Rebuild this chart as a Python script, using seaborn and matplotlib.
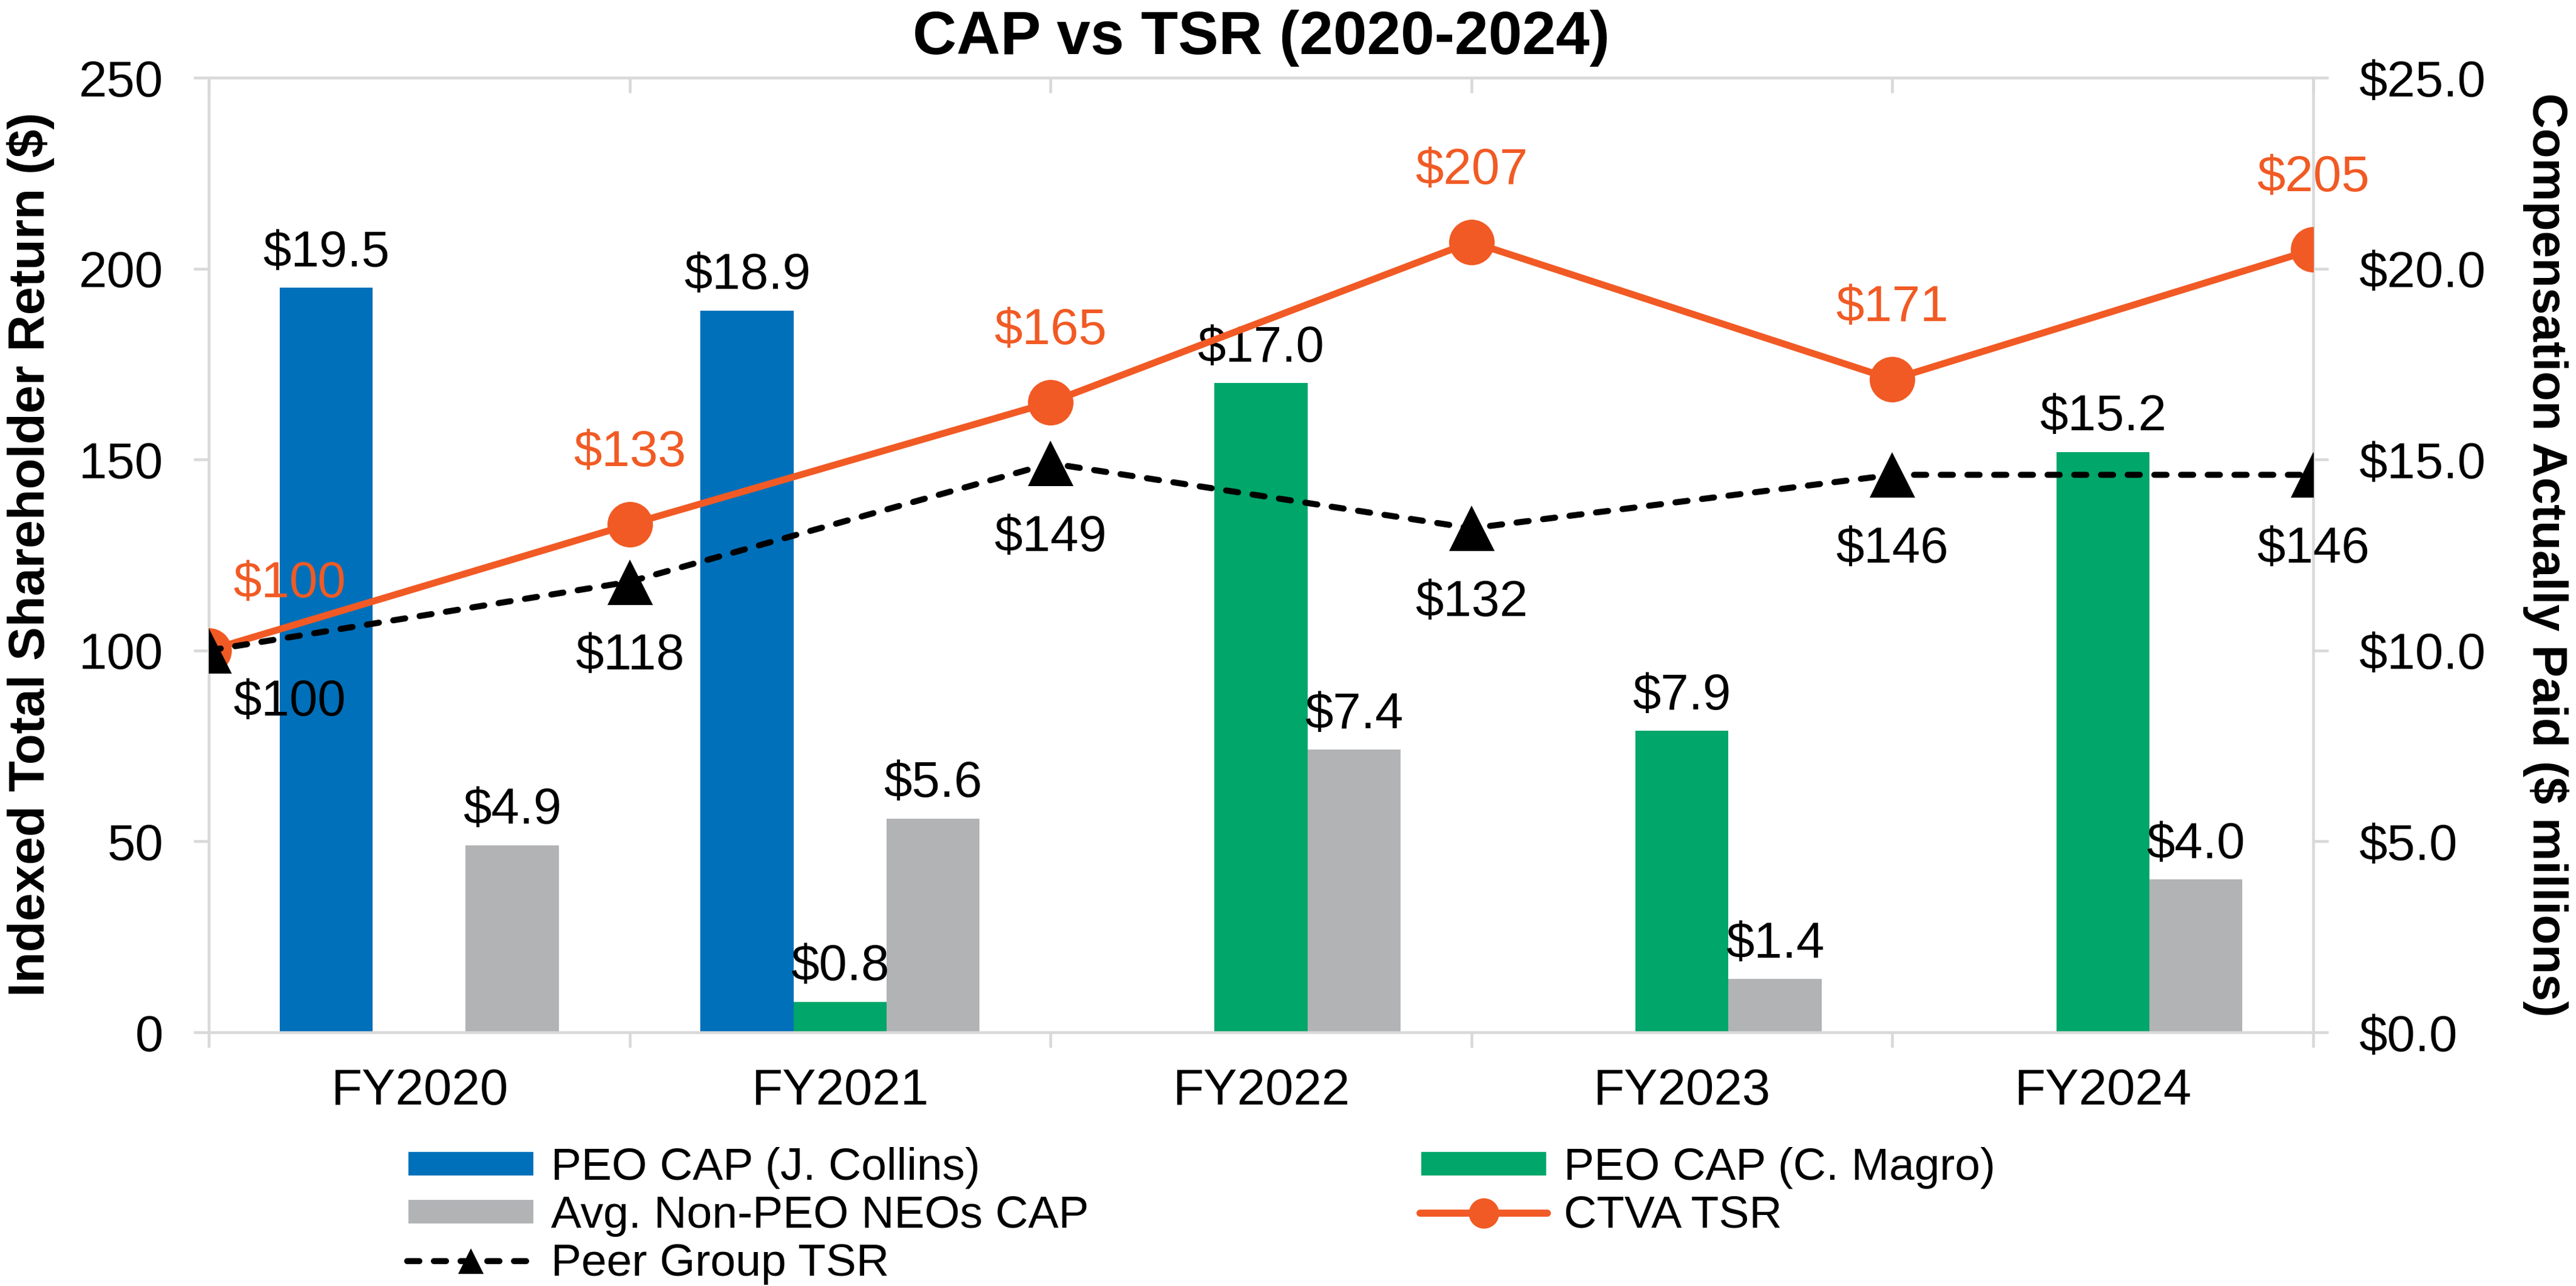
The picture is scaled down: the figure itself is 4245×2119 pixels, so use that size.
import matplotlib
matplotlib.use('Agg')
import matplotlib.pyplot as plt
import seaborn as sns
import pandas as pd
from matplotlib.patches import Patch
from matplotlib.lines import Line2D
from matplotlib.ticker import FuncFormatter

# Data
years = ['FY2020', 'FY2021', 'FY2022', 'FY2023', 'FY2024']
collins_cap = [19.5, 18.9, 0, 0, 0]
magro_cap = [0, 0.8, 17.0, 7.9, 15.2]
neo_cap = [4.9, 5.6, 7.4, 1.4, 4.0]

# TSR points sit on the category boundaries (start of FY2020 .. end of FY2024)
tsr_x = [-0.5, 0.5, 1.5, 2.5, 3.5, 4.5]
ctva_tsr = [100, 133, 165, 207, 171, 205]
peer_tsr = [100, 118, 149, 132, 146, 146]

series_names = ['PEO CAP (J. Collins)', 'PEO CAP (C. Magro)', 'Avg. Non-PEO NEOs CAP']
bar_colors = ['#0070BA', '#00A66A', '#B2B3B5']
orange = '#F15A24'
axis_gray = '#D9D9D9'
peer_dash = (0, (2.0, 2.4))

df = pd.DataFrame({
    'Year': years * 3,
    'Series': [n for n in series_names for _ in years],
    'CAP': collins_cap + magro_cap + neo_cap,
})

sns.set_style('white')
plt.rcParams['font.family'] = ['Liberation Sans', 'DejaVu Sans']
plt.rcParams['text.color'] = 'black'
plt.rcParams['axes.labelcolor'] = 'black'
plt.rcParams['xtick.color'] = 'black'
plt.rcParams['ytick.color'] = 'black'

fig = plt.figure(figsize=(4245 / 300, 2119 / 300), dpi=300)
ax = fig.add_axes([0.08104, 0.19726, 0.81696, 0.74233])

# Bars (CAP, right-hand scale)
sns.barplot(data=df, x='Year', y='CAP', hue='Series', hue_order=series_names,
            palette=bar_colors, saturation=1, width=0.663, linewidth=0,
            legend=False, ax=ax)

for cont, vals in zip(ax.containers, [collins_cap, magro_cap, neo_cap]):
    for bar, v in zip(cont, vals):
        if v > 0:
            ax.annotate(f'${v:.1f}', (bar.get_x() + bar.get_width() / 2, bar.get_height()),
                        xytext=(0, 8.5), textcoords='offset points',
                        ha='center', va='baseline', fontsize=20)

ax.set_ylim(0, 25)
ax.set_yticks([0, 5, 10, 15, 20, 25])
ax.yaxis.set_major_formatter(FuncFormatter(lambda v, p: f'${v:.1f}'))
ax.set_xlabel('')
ax.set_ylabel('')

# Lines (TSR, left-hand scale)
ax2 = ax.twinx()
sns.lineplot(x=tsr_x, y=ctva_tsr, ax=ax2, color=orange, linewidth=2.7,
             marker='o', markersize=18, markeredgewidth=0, sort=False,
             solid_capstyle='round', legend=False)
sns.lineplot(x=tsr_x, y=peer_tsr, ax=ax2, color='black', linewidth=2.4,
             linestyle=peer_dash, dash_capstyle='round',
             marker='^', markersize=18, markeredgewidth=0, sort=False, legend=False)

for i, (x, v) in enumerate(zip(tsr_x, ctva_tsr)):
    dx = 32 if i == 0 else 0
    dy = 21 if i == 0 else 23
    ax2.annotate(f'${v}', (x, v), xytext=(dx, dy), textcoords='offset points',
                 ha='center', va='baseline', fontsize=20, color=orange)
for i, (x, v) in enumerate(zip(tsr_x, peer_tsr)):
    dx = 32 if i == 0 else 0
    dy = -11 if i == 0 else -20
    ax2.annotate(f'${v}', (x, v), xytext=(dx, dy), textcoords='offset points',
                 ha='center', va='top', fontsize=20, color='black')

ax2.set_ylim(0, 250)
ax2.set_yticks([0, 50, 100, 150, 200, 250])
ax2.set_ylabel('')

# swap sides: CAP scale on the right, TSR scale on the left
ax.yaxis.tick_right()
ax2.yaxis.tick_left()

# Category axis: ticks on boundaries, labels at centres
ax.set_xlim(-0.5, 4.5)
ax.set_xticks(tsr_x)
ax.set_xticklabels([''] * len(tsr_x))
ax.set_xticks(range(len(years)), minor=True)
ax.set_xticklabels(years, minor=True)
ax.tick_params(axis='x', which='major', bottom=True, top=False, direction='out',
               length=6, width=1.1, color=axis_gray)
ax.tick_params(axis='x', which='minor', bottom=True, length=0, pad=14, labelsize=20)
ax.tick_params(axis='y', right=True, left=False, labelright=True, labelleft=False,
               direction='out', length=6, width=1.1, color=axis_gray, pad=12,
               labelsize=20, labelcolor='black')
ax2.tick_params(axis='y', left=True, right=False, labelleft=True, labelright=False,
                direction='out', length=6, width=1.1, color=axis_gray, pad=12,
                labelsize=20, labelcolor='black')

# top ticks pointing inward
ax2.xaxis.set_visible(True)
ax2.tick_params(axis='x', which='major', bottom=False, top=True, labelbottom=False,
                labeltop=False, direction='in', length=6, width=1.1, color=axis_gray)
ax2.tick_params(axis='x', which='minor', bottom=False, top=False,
                labelbottom=False, labeltop=False)

ax.grid(False)
ax2.grid(False)
for s in ax.spines.values():
    s.set_visible(True)
    s.set_color(axis_gray)
    s.set_linewidth(1.1)
for s in ax2.spines.values():
    s.set_visible(False)

# Titles and axis labels
fig.text(0.4895, 0.9703, 'CAP vs TSR (2020-2024)', ha='center', va='center',
         fontsize=24, fontweight='bold')
fig.text(0.0118, 0.5687, 'Indexed Total Shareholder Return ($)', rotation=90,
         ha='center', va='center', fontsize=20, fontweight='bold')
fig.text(0.9882, 0.5687, 'Compensation Actually Paid ($ millions)', rotation=270,
         ha='center', va='center', fontsize=19.2, fontweight='bold')

# Legend in two columns
h1 = [Patch(facecolor=bar_colors[0]), Patch(facecolor=bar_colors[2]),
      Line2D([], [], color='black', lw=2.4, linestyle=peer_dash,
             dash_capstyle='round', marker='^', ms=10, mew=0)]
l1 = [series_names[0], series_names[2], 'Peer Group TSR']
h2 = [Patch(facecolor=bar_colors[1]),
      Line2D([], [], color=orange, lw=2.8, marker='o', ms=12, mew=0,
             solid_capstyle='round')]
l2 = [series_names[1], 'CTVA TSR']
leg_kw = dict(loc='upper left', frameon=False, fontsize=18, handlelength=2.8,
              handleheight=0.5, handletextpad=0.36, labelspacing=0.13,
              borderpad=0, borderaxespad=0)
fig.legend(h1, l1, bbox_to_anchor=(0.158, 0.108), **leg_kw)
fig.legend(h2, l2, bbox_to_anchor=(0.5512, 0.108), **leg_kw)

fig.savefig('out.png', dpi=300)
